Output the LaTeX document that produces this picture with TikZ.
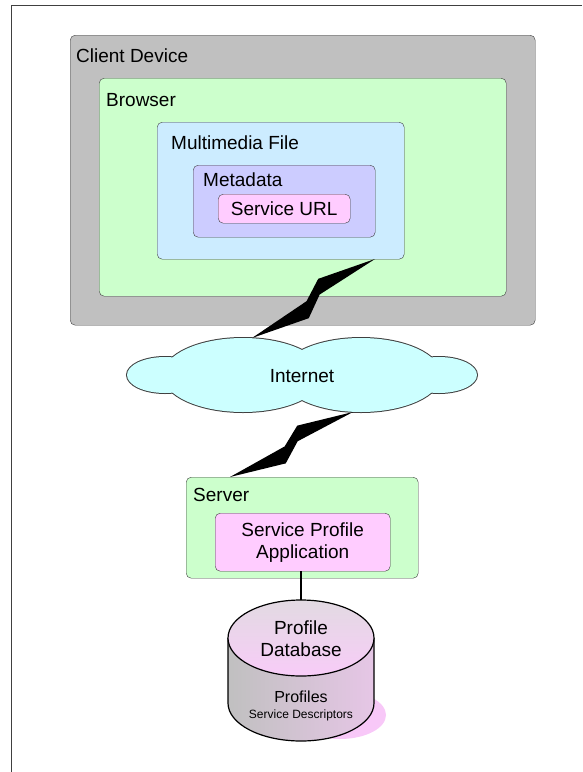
\documentclass[tikz,border=0pt]{standalone}
\usepackage{fontspec}
\setmainfont{Liberation Sans}
\usetikzlibrary{calc}

\definecolor{devgray}{HTML}{C0C0C0}
\definecolor{browsergreen}{HTML}{CCFFCC}
\definecolor{fileblue}{HTML}{CCECFF}
\definecolor{metaviolet}{HTML}{CCCCFF}
\definecolor{urlpink}{HTML}{FFCCFF}
\definecolor{netcyan}{HTML}{CCFFFF}
\definecolor{edgegray}{HTML}{404040}
\definecolor{cyltop}{HTML}{E2DAE2}
\definecolor{cylbot}{HTML}{F8CCF8}
\definecolor{cylside}{HTML}{E6C6E6}
\definecolor{shadowpink}{HTML}{F8C8F8}

\tikzset{
  box/.style={draw=edgegray, rounded corners=5pt, anchor=north west, inner sep=0pt},
  lbl/.style={anchor=west, inner sep=0pt, font=\fontsize{19}{22}\selectfont},
  txt/.style={inner sep=0pt, align=center, font=\fontsize{19}{22}\selectfont}
}

% lightning bolt between two named points
\newcommand\zap[2]{%
  \fill[black] (#1) -- ($(#1)!0.40!(#2)!14pt!-90:(#2)$)
    -- ($(#1)!0.55!(#2)!1.5pt!-90:(#2)$) -- (#2)
    -- ($(#1)!0.60!(#2)!14pt!90:(#2)$)
    -- ($(#1)!0.45!(#2)$) -- cycle;}

\begin{document}
\begin{tikzpicture}[x=1pt,y=1pt]
\useasboundingbox (0,0) rectangle (582,-772);
\draw[edgegray] (582,-5) -- (11,-5) -- (11,-772);

% client side
\node[box, fill=devgray, minimum width=465pt, minimum height=290pt] (dev) at (70,-35) {};
\node[lbl] (devlbl) at (76,-56) {Client Device};
\node[box, fill=browsergreen, minimum width=407pt, minimum height=218pt] (browser) at (99,-78) {};
\node[lbl] (browserlbl) at (106,-100) {Browser};
\node[box, fill=fileblue, minimum width=247pt, minimum height=137pt] (mm) at (157,-122) {};
\node[lbl] (mmlbl) at (171,-143) {Multimedia File};
\node[box, fill=metaviolet, minimum width=182pt, minimum height=72pt] (meta) at (193,-165) {};
\node[lbl] (metalbl) at (203,-180) {Metadata};
\node[box, fill=urlpink, minimum width=132pt, minimum height=29pt] (url) at (218,-194) {};
\node[txt] (urltxt) at (url.center) {Service URL};

% internet cloud
\foreach \cx/\rx/\ry in {165/38/18, 439/38/18, 243/80/37, 361/80/37}
  \draw[line width=2pt, edgegray] (\cx,-375) ellipse [x radius=\rx, y radius=\ry];
\foreach \cx/\rx/\ry in {165/38/18, 439/38/18, 243/80/37, 361/80/37}
  \fill[netcyan] (\cx,-375) ellipse [x radius=\rx, y radius=\ry];
\node[txt] (net) at (302,-376) {Internet};

% server side
\node[box, fill=browsergreen, minimum width=232pt, minimum height=101pt] (server) at (186,-477) {};
\node[lbl] (serverlbl) at (193,-495) {Server};
\node[box, fill=urlpink, minimum width=175pt, minimum height=58pt] (app) at (215,-513) {};
\node[txt] (apptxt) at (app.center) {Service Profile\\Application};

% database
\coordinate (db) at (301,-600);
\draw[black, line width=1.2pt] (app.south -| db) -- (db);
\fill[shadowpink] (340,-715) ellipse [x radius=46, y radius=24];
\shade[left color=devgray, right color=cylside] (228,-638) -- (228,-703)
  arc[start angle=180, end angle=360, x radius=73, y radius=38] -- (374,-638) -- cycle;
\draw[black, line width=1.2pt] (228,-638) -- (228,-703)
  arc[start angle=180, end angle=360, x radius=73, y radius=38] -- (374,-638);
\shade[top color=cyltop, bottom color=cylbot, draw=black, line width=1.2pt]
  (301,-638) ellipse [x radius=73, y radius=38];
\node[txt] (dbname) at (301,-639) {Profile\\Database};
\node[txt, font=\fontsize{16}{18}\selectfont] (dbprof) at (301,-697) {Profiles};
\node[txt, font=\fontsize{12}{14}\selectfont] (dbdesc) at (301,-715) {Service Descriptors};

% links
\coordinate (z1a) at (375,-259);
\coordinate (z1b) at (252,-338);
\coordinate (z2a) at (353,-412);
\coordinate (z2b) at (230,-477);
\zap{z1a}{z1b}
\zap{z2a}{z2b}
\end{tikzpicture}
\end{document}
